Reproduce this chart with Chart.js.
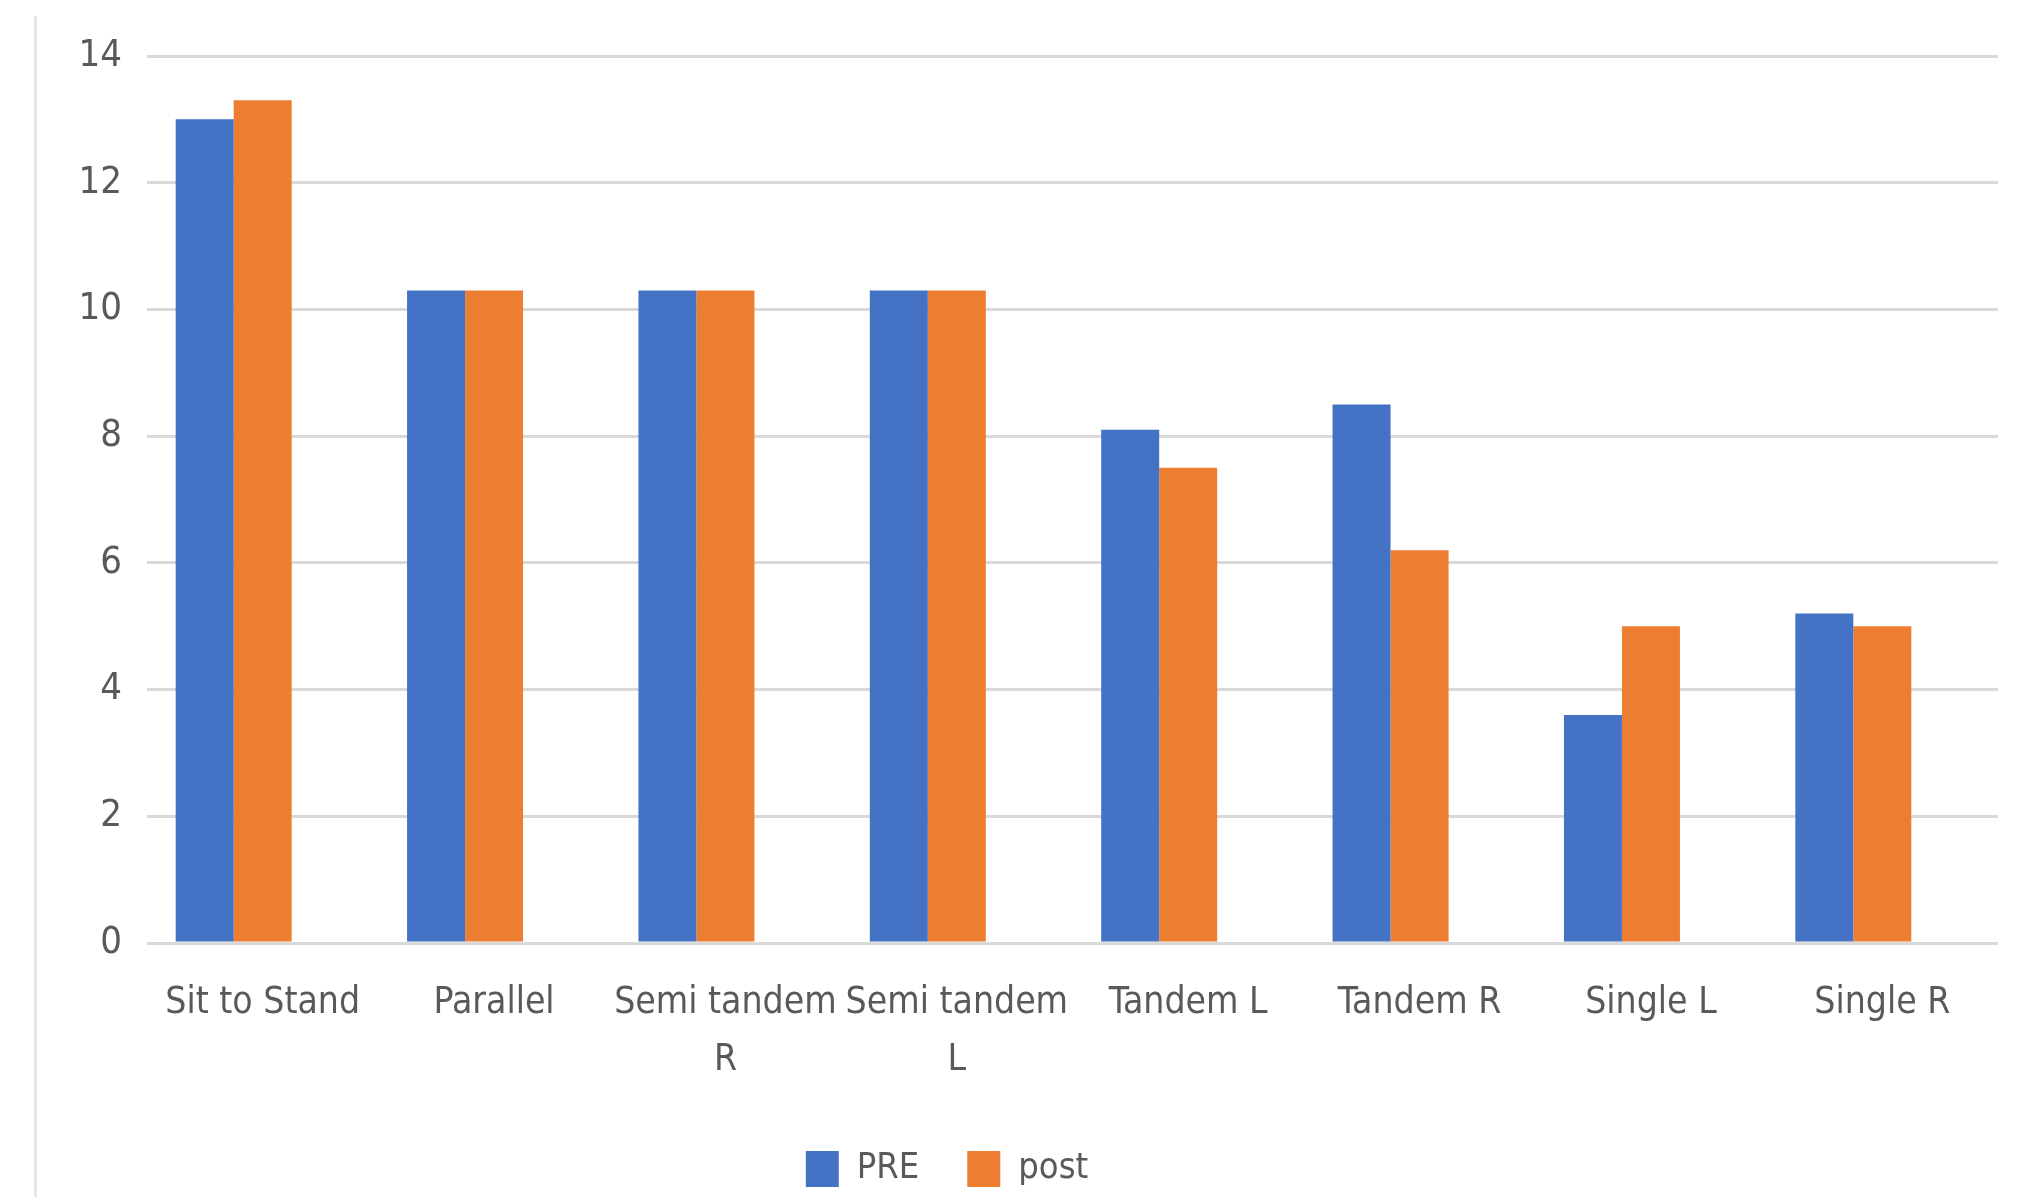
<!DOCTYPE html>
<html>
<head>
<meta charset="utf-8">
<script src="https://cdn.jsdelivr.net/npm/chart.js@4.4.1/dist/chart.umd.min.js"></script>
<style>
  html, body { margin: 0; padding: 0; background: #ffffff; }
  #wrap { position: relative; width: 2021px; height: 1197px; overflow: hidden; background: #ffffff; }
  #frame { position: absolute; left: 34px; top: 16px; width: 3px; height: 1181px; background: #e6e6e6; }
  canvas { position: absolute; left: 0; top: 0; }
</style>
</head>
<body>
<div id="wrap">
  <div id="frame"></div>
  <canvas id="chart" width="2021" height="1197"></canvas>
</div>
<script>
// Balance test scores before and after the programme
const categories = ['Sit to Stand', 'Parallel', ['Semi tandem', 'R'], ['Semi tandem', 'L'], 'Tandem L', 'Tandem R', 'Single L', 'Single R'];
const preValues  = [13.0, 10.3, 10.3, 10.3, 8.1, 8.5, 3.6, 5.2];
const postValues = [13.3, 10.3, 10.3, 10.3, 7.5, 6.2, 5.0, 5.0];
const yTicks = [0, 2, 4, 6, 8, 10, 12, 14];

const FONT = "'Liberation Sans Narrow', 'DejaVu Sans Condensed', 'Liberation Sans', sans-serif";
const TEXT = '#595959';
const GRID = '#d9d9d9';

// Moves the legend row a little to the left of the canvas centre.
const legendShift = {
  id: 'legendShift',
  afterLayout(chart) {
    const lg = chart.legend;
    if (lg) { lg.left -= 52; lg.right -= 52; }
  }
};

new Chart(document.getElementById('chart'), {
  type: 'bar',
  data: {
    labels: categories,
    datasets: [
      { label: 'PRE',  data: preValues,  backgroundColor: '#4472C4', borderWidth: 0 },
      { label: 'post', data: postValues, backgroundColor: '#ED7D31', borderWidth: 0 },
      // empty third slot: keeps each pair to the left of its category centre
      { label: '', data: categories.map(() => null), backgroundColor: 'rgba(0,0,0,0)', borderWidth: 0 }
    ]
  },
  options: {
    responsive: false,
    devicePixelRatio: 1,
    animation: false,
    datasets: { bar: { barPercentage: 1.0, categoryPercentage: 0.752 } },
    layout: { padding: { left: 0, top: 56, right: 23, bottom: 0 } },
    plugins: {
      tooltip: { enabled: false },
      legend: {
        position: 'bottom',
        maxHeight: 99,
        labels: {
          filter: (item) => item.datasetIndex < 2,
          boxWidth: 33,
          boxHeight: 36,
          padding: 48,
          color: TEXT,
          font: { family: FONT, size: 36 }
        }
      }
    },
    scales: {
      x: {
        grid: { display: false, drawTicks: false },
        border: { display: false },
        ticks: {
          autoSkip: false,
          maxRotation: 0,
          minRotation: 0,
          padding: 32,
          color: TEXT,
          font: { family: FONT, size: 37, lineHeight: 1.54 }
        },
        afterFit: (s) => { s.height = 160; }
      },
      y: {
        min: yTicks[0],
        max: yTicks[yTicks.length - 1],
        afterBuildTicks: (s) => { s.ticks = yTicks.map(v => ({ value: v })); },
        grid: { color: GRID, lineWidth: 3, drawTicks: false },
        border: { display: false },
        ticks: {
          padding: 25,
          color: TEXT,
          font: { family: FONT, size: 38 }
        },
        afterFit: (s) => { s.width = 147; }
      }
    }
  },
  plugins: [legendShift]
});
</script>
</body>
</html>
